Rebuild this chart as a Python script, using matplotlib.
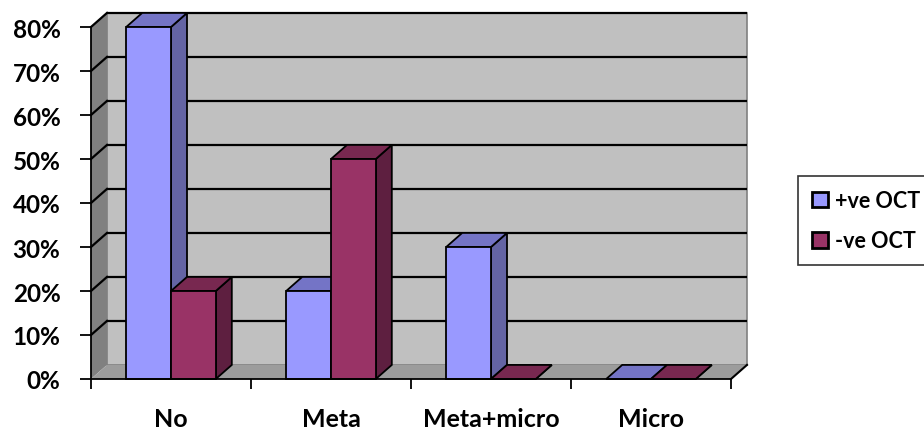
import matplotlib.pyplot as plt
from matplotlib.patches import Polygon, Patch

plt.rcParams['font.family'] = ['Lato', 'DejaVu Sans']
plt.rcParams['font.weight'] = 'bold'

categories = ['No', 'Meta', 'Meta+micro', 'Micro']
positive_oct = [80, 20, 30, 0]
negative_oct = [20, 50, 0, 0]
y_ticks = [0, 10, 20, 30, 40, 50, 60, 70, 80]

series = [
    ('+ve OCT', positive_oct, '#9999FF', '#7474C6', '#6464A4'),
    ('-ve OCT', negative_oct, '#993366', '#782850', '#5E1F40'),
]

# depth of the fake 3d box, in data units
DX = 0.1
DY = 3.2
BAR_W = 0.28
TOP = 80

fig = plt.figure(figsize=(9.24, 4.31), dpi=100)
ax = fig.add_axes([91 / 924, 51 / 431, 640 / 924, 352 / 431])
ax.set_xlim(-0.5, 3.5)
ax.set_ylim(0, TOP)
ax.patch.set_visible(False)

x0, x1 = -0.5, len(categories) - 0.5

# walls and floor
ax.add_patch(Polygon([(x0 + DX, DY), (x1 + DX, DY), (x1 + DX, TOP + DY), (x0 + DX, TOP + DY)],
                     closed=True, facecolor='#C0C0C0', edgecolor='#808080', lw=1.2,
                     clip_on=False, zorder=0))
ax.add_patch(Polygon([(x0, 0), (x0 + DX, DY), (x0 + DX, TOP + DY), (x0, TOP)],
                     closed=True, facecolor='#808080', edgecolor='none', clip_on=False, zorder=0))
ax.add_patch(Polygon([(x0, 0), (x1, 0), (x1 + DX, DY), (x0 + DX, DY)],
                     closed=True, facecolor='#9C9C9C', edgecolor='none', clip_on=False, zorder=0))
ax.plot([x1, x1 + DX], [0, DY], color='black', lw=1.5, clip_on=False, zorder=1)

# gridlines on back and side wall
for v in y_ticks[1:]:
    ax.plot([x0 + DX, x1 + DX], [v + DY, v + DY], color='black', lw=1.6,
            clip_on=False, zorder=1, solid_capstyle='butt')
    ax.plot([x0, x0 + DX], [v, v + DY], color='black', lw=1.6, clip_on=False, zorder=1)

# bars, left to right so fronts cover neighbouring sides
for i in range(len(categories)):
    for k, (label, values, front, top, side) in enumerate(series):
        h = values[i]
        left = i - BAR_W + k * BAR_W
        right = left + BAR_W
        ax.add_patch(Polygon([(right, 0), (right + DX, DY), (right + DX, h + DY), (right, h)],
                             closed=True, facecolor=side, edgecolor='black', lw=1.3,
                             clip_on=False, zorder=3))
        ax.add_patch(Polygon([(left, h), (right, h), (right + DX, h + DY), (left + DX, h + DY)],
                             closed=True, facecolor=top, edgecolor='black', lw=1.3,
                             clip_on=False, zorder=3))
        ax.bar(left, h, width=BAR_W, align='edge', color=front, edgecolor='black',
               lw=1.3, clip_on=False, zorder=3)

for s in ['top', 'right']:
    ax.spines[s].set_visible(False)
for s in ['left', 'bottom']:
    ax.spines[s].set_linewidth(1.3)
    ax.spines[s].set_zorder(4)

ax.set_yticks(y_ticks)
ax.set_yticklabels([f'{v}%' for v in y_ticks], fontsize=17.5, fontweight='bold')
ax.tick_params(axis='y', length=8, width=1.3, pad=14)

ax.set_xticks(range(len(categories)))
ax.set_xticklabels(categories, fontsize=18, fontweight='bold')
ax.set_xticks([i - 0.5 for i in range(len(categories) + 1)], minor=True)
ax.tick_params(axis='x', which='major', length=0, pad=20)
ax.tick_params(axis='x', which='minor', length=7, width=1.3, direction='out')

handles = [Patch(facecolor=s[2], edgecolor='black', lw=2) for s in series]
leg = fig.legend(handles, [s[0] for s in series], loc='upper left',
                 bbox_to_anchor=(798 / 924, 1 - 177 / 431), bbox_transform=fig.transFigure,
                 prop={'size': 15.5, 'weight': 'bold'}, frameon=True, fancybox=False,
                 edgecolor='black', borderaxespad=0, borderpad=0.65,
                 handlelength=0.75, handleheight=0.75, handletextpad=0.3,
                 labelspacing=0.9)
leg.get_frame().set_linewidth(1.2)

fig.savefig('out.png', dpi=100)
